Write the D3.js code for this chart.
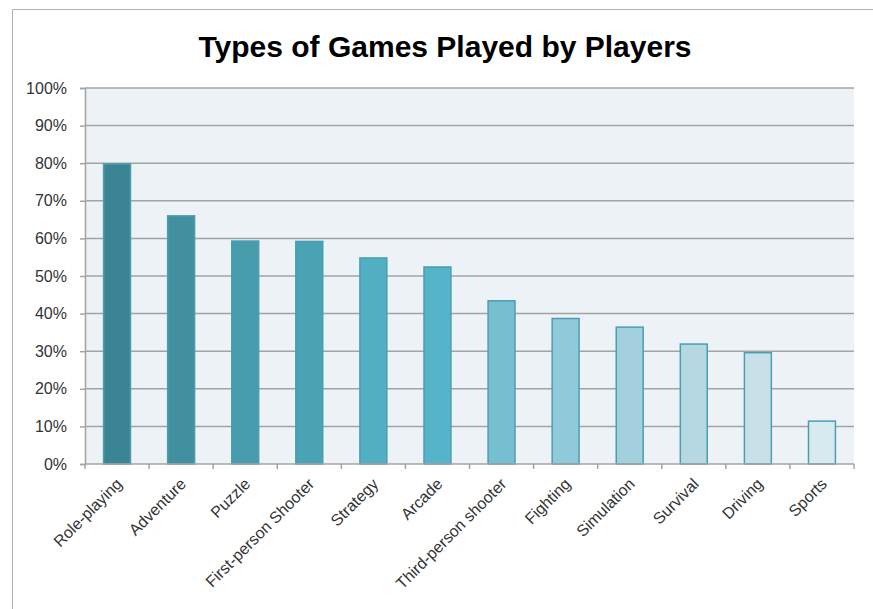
<!DOCTYPE html>
<html>
<head>
<meta charset="utf-8">
<script src="https://cdn.jsdelivr.net/npm/d3@7"></script>
<style>
  body { margin: 0; background: #fff; }
  svg text { font-family: "Liberation Sans", Arial, sans-serif; }
</style>
</head>
<body>
<div id="chart"></div>
<script>
const genres = ["Role-playing", "Adventure", "Puzzle", "First-person Shooter", "Strategy", "Arcade",
  "Third-person shooter", "Fighting", "Simulation", "Survival", "Driving", "Sports"];
const shares = [79.8, 66, 59.3, 59.2, 54.8, 52.4, 43.4, 38.7, 36.4, 31.9, 29.6, 11.4];
const barColors = ["#3a8593", "#418f9f", "#479cae", "#4aa2b5", "#52aec2", "#55b4ca",
  "#76bfd1", "#90c9d9", "#a3d0de", "#b6d8e3", "#c8e1e9", "#d8e9ef"];
const yTicks = [0, 10, 20, 30, 40, 50, 60, 70, 80, 90, 100];

const W = 873, H = 609;
const margin = {top: 88, right: 19, bottom: 145, left: 85};
const width = W - margin.left - margin.right,
      height = H - margin.top - margin.bottom;

const svg = d3.select("#chart").append("svg")
  .attr("width", W).attr("height", H);

// outer frame (cropped at right and bottom)
svg.append("path")
  .attr("d", `M12.5,${H} V9.5 H${W}`)
  .attr("fill", "none").attr("stroke", "#b0b0b0").attr("stroke-width", 1);

svg.append("text")
  .attr("x", 445).attr("y", 57)
  .attr("text-anchor", "middle")
  .attr("font-size", 30).attr("font-weight", "bold")
  .attr("fill", "#000")
  .text("Types of Games Played by Players");

const g = svg.append("g").attr("transform", `translate(${margin.left},${margin.top})`);

const x = d3.scaleBand().domain(genres).range([0, width]).paddingInner(0.58).paddingOuter(0.29);
const y = d3.scaleLinear().domain([0, 100]).range([height, 0]);

g.append("rect").attr("width", width).attr("height", height).attr("fill", "#edf2f7");

// grid
g.selectAll(".grid").data(yTicks.slice(1)).join("line")
  .attr("x1", 0).attr("x2", width)
  .attr("y1", d => y(d)).attr("y2", d => y(d))
  .attr("stroke", "#a3a3a3").attr("stroke-width", 1.5);

// bars
g.selectAll(".bar").data(genres).join("rect")
  .attr("x", d => x(d))
  .attr("y", (d, i) => y(shares[i]))
  .attr("width", x.bandwidth())
  .attr("height", (d, i) => height - y(shares[i]))
  .attr("fill", (d, i) => barColors[i])
  .attr("stroke", "#4b9eb0").attr("stroke-width", 1.5);

// y axis
const yAxis = g.append("g")
  .call(d3.axisLeft(y).tickValues(yTicks).tickSize(5).tickPadding(13).tickFormat(d => d + "%"));
yAxis.select(".domain").attr("stroke", "#a3a3a3").attr("stroke-width", 1.5);
yAxis.selectAll(".tick line").attr("stroke", "#a3a3a3").attr("stroke-width", 1.5);
yAxis.selectAll("text").attr("font-size", 16).attr("fill", "#333").attr("font-family", null);

// x axis: ticks on category boundaries
const bounds = d3.range(genres.length + 1).map(i => i * width / genres.length);
const xAxisG = g.append("g").attr("transform", `translate(0,${height})`);
xAxisG.append("line").attr("x1", 0).attr("x2", width)
  .attr("stroke", "#a3a3a3").attr("stroke-width", 1.5);
xAxisG.selectAll(".xt").data(bounds).join("line")
  .attr("x1", d => d).attr("x2", d => d).attr("y1", 0).attr("y2", 5)
  .attr("stroke", "#a3a3a3").attr("stroke-width", 1.5);
xAxisG.selectAll(".xl").data(genres).join("text")
  .attr("transform", d => `translate(${x(d) + x.bandwidth() / 2 + 6},${21}) rotate(-45)`)
  .attr("text-anchor", "end")
  .attr("font-size", 16).attr("fill", "#333")
  .text(d => d);
</script>
</body>
</html>
